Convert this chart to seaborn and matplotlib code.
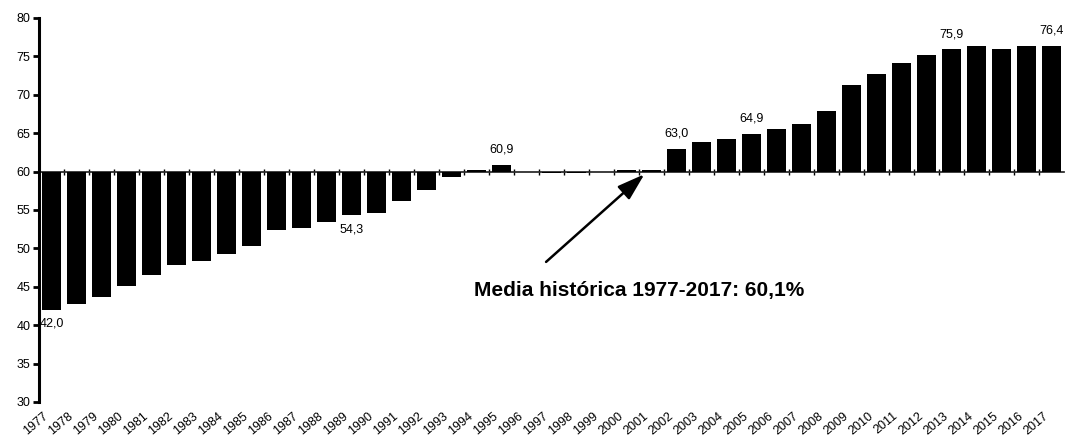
import numpy as np
import pandas as pd
import matplotlib
matplotlib.use("Agg")
import matplotlib.pyplot as plt
import matplotlib.transforms as mtransforms
import seaborn as sns

years = [str(y) for y in range(1977, 2018)]
values = [42.0, 42.7, 43.7, 45.1, 46.6, 47.9, 48.3, 49.3, 50.3, 52.4,
          52.7, 53.5, 54.3, 54.6, 56.2, 57.6, 59.3, 60.2, 60.9, 60.0,
          59.8, 59.8, 59.9, 60.2, 60.2, 63.0, 63.8, 64.2, 64.9, 65.5,
          66.2, 67.9, 71.3, 72.7, 74.2, 75.2, 75.9, 76.3, 75.9, 76.4,
          76.4]
baseline = 60.0
label_years = ["1977", "1989", "1995", "2002", "2005", "2013", "2017"]
annot_text = "Media histórica 1977-2017: 60,1%"
yticks = [30, 35, 40, 45, 50, 55, 60, 65, 70, 75, 80]

sns.set_theme(style="white")
plt.rcParams['font.family'] = ['Liberation Sans', 'DejaVu Sans']
plt.rcParams['text.color'] = 'black'

df = pd.DataFrame({"year": years, "value": values})
df["dev"] = df["value"] - baseline

fig = plt.figure(figsize=(10.65, 4.41), dpi=100)
ax = fig.add_axes([39 / 1065, 1 - 402 / 441, (1064 - 39) / 1065, (402 - 18) / 441])

sns.barplot(data=df, x="year", y="dev", bottom=baseline, color="black",
            saturation=1, width=0.77, ax=ax, edgecolor="none")

ax.set_xlim(-0.5, len(years) - 0.5)
ax.set_ylim(30, 80)
ax.set_yticks(yticks)
ax.set_yticklabels([str(t) for t in yticks], fontsize=9, color="black")
ax.set_xlabel("")
ax.set_ylabel("")

for s in ["top", "right", "bottom"]:
    ax.spines[s].set_visible(False)
ax.spines["left"].set_linewidth(2.2)
ax.spines["left"].set_color("black")
ax.tick_params(axis="y", direction="out", length=4, width=2, color="black",
               left=True, pad=2, labelcolor="black")
ax.tick_params(axis="x", length=0, pad=9)
ax.set_xticks(range(len(years)))
ax.set_xticklabels(years, rotation=40, ha="right", va="center",
                   rotation_mode="anchor", fontsize=9, color="black")
offset = mtransforms.ScaledTranslation(-5 / 100, 0, fig.dpi_scale_trans)
for lab in ax.get_xticklabels():
    lab.set_transform(lab.get_transform() + offset)

# category axis crossing at the baseline
sec = ax.secondary_xaxis((baseline - 30) / 50)
sec.set_xticks(np.arange(len(years) - 1) + 0.5)
sec.set_xticklabels([])
sec.spines["bottom"].set_linewidth(2.5)
sec.spines["bottom"].set_color("black")
sec.tick_params(axis="x", direction="out", length=2.5, width=1.0, color="black", bottom=True)

# data labels
for yr in label_years:
    i = years.index(yr)
    v = values[i]
    txt = f"{v:.1f}".replace(".", ",")
    if v < baseline:
        ax.text(i, v - 1.0, txt, ha="center", va="top", fontsize=9, color="black")
    else:
        ax.text(i, v + 1.2, txt, ha="center", va="bottom", fontsize=9, color="black")

ax.annotate("", xy=(23.8, 59.9), xytext=(19.7, 48.0),
            arrowprops=dict(arrowstyle="-|>,head_length=1.4,head_width=0.45",
                            color="black", lw=1.8))
ax.text(23.5, 44.5, annot_text, ha="center", va="center", fontsize=15,
        fontweight="bold", color="black")

fig.savefig("out.png", dpi=100)
